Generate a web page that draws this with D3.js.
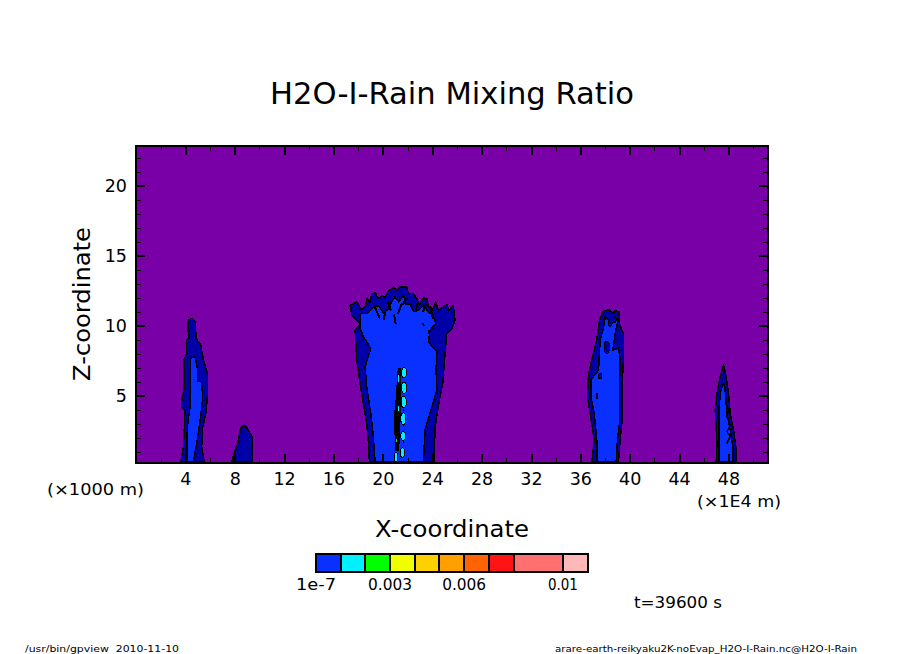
<!DOCTYPE html>
<html>
<head>
<meta charset="utf-8">
<script src="https://cdn.jsdelivr.net/npm/d3@7"></script>
<style>
	html, body { margin: 0; padding: 0; background: #fff; }
	svg { display: block; }
	text { font-family: "DejaVu Sans", sans-serif; fill: #000; }
</style>
</head>
<body>
<div id="viz"></div>
<script>
// contour outlines are [x (1E4 m), z (1000 m)]
const left_outer = [[3.62,.27],[3.84,1.37],[3.92,2.79],[3.97,3.99],[3.67,4.22],[3.73,4.89],[3.89,5.41],[3.89,7.56],[4.11,8.04],[4.11,8.99],[4.32,9.22],[4.21,9.7],[4.24,10.41],[4.54,10.53],[4.81,10.29],[4.86,9.11],[5.24,8.63],[5.46,7.56],[5.78,6.61],[5.78,4.94],[5.67,3.75],[5.41,2.79],[5.32,1.36],[5.54,.27]]
const left_inner = [[4.11,.27],[4.16,2.79],[4.38,4.22],[4.43,6.36],[4.43,7.68],[4.78,7.79],[4.97,6.96],[4.97,6.01],[5.29,6.01],[5.41,4.94],[5.24,3.51],[4.92,1.61],[4.64,.27]]
const small_outer = [[7.75,.27],[7.94,.89],[8.21,1.49],[8.32,1.96],[8.48,2.68],[8.75,2.91],[9.02,2.68],[9.24,2.32],[9.43,2.08],[9.43,.27]]
const center_outer = [[18.91,.27],[18.83,1.61],[18.69,3.04],[18.42,4.46],[18.15,5.89],[17.88,7.56],[17.75,9.7],[18.2,10.1],[17.48,10.77],[17.34,11.46],[17.88,11.7],[18.29,11.11],[18.61,11.46],[18.69,11.94],[18.96,11.7],[19.1,12.3],[19.42,12.34],[19.59,11.94],[19.91,12.13],[20.18,12.06],[20.4,12.41],[20.85,12.77],[21.12,12.53],[21.39,12.77],[21.94,12.77],[22.07,12.3],[22.47,12.3],[22.75,11.94],[22.93,11.51],[23.28,11.99],[23.56,11.94],[23.69,11.34],[24.01,11.11],[24.29,11.7],[24.5,11.11],[25.18,11.51],[25.36,11.11],[25.71,11.46],[25.85,10.39],[25.58,9.79],[25.18,9.46],[25.04,8.04],[24.85,5.89],[24.58,4.7],[24.23,2.79],[24.15,.27]]
const center_inner = [[19.37,.27],[19.23,2.08],[19.02,3.75],[18.69,5.65],[18.56,7.08],[19.02,8.39],[18.42,9.22],[18.15,9.82],[18.21,10.89],[18.69,10.87],[19.2,11.3],[19.64,11.46],[20.05,10.9],[20.45,11.22],[20.7,11.7],[20.99,12.06],[21.3,11.7],[21.66,12.18],[21.9,11.5],[22.2,11.58],[22.5,11.0],[22.88,11.11],[23.25,11.5],[23.69,10.99],[24.09,10.75],[24.29,10.15],[23.82,9.68],[23.69,8.84],[24.37,8.15],[24.31,6.84],[24.37,5.41],[23.82,3.75],[23.42,2.56],[23.28,.27]]
const center_core = [[21.26,6.94],[21.39,6.94],[21.37,5.03],[21.39,3.6],[21.31,1.94],[21.26,1.1],[21.04,1.1],[20.99,2.65],[20.99,3.84],[21.12,5.03],[21.18,5.99]]
const right_outer = [[36.93,.29],[37.12,1.84],[36.79,3.75],[36.57,4.94],[36.65,6.49],[36.93,7.56],[37.33,8.99],[37.55,10.41],[37.87,11.08],[38.36,11.13],[38.63,10.89],[38.82,11.08],[39.14,11.0],[39.17,10.06],[39.49,9.46],[39.49,7.56],[39.36,5.41],[39.36,3.04],[39.22,1.84],[39.09,.29]]
const right_inner = [[37.33,.29],[37.33,1.84],[37.12,3.75],[36.85,4.94],[36.85,6.13],[37.47,6.84],[37.6,8.99],[37.87,9.82],[38.01,10.65],[38.55,10.18],[39.09,10.54],[38.82,9.46],[38.63,8.27],[39.09,8.39],[39.22,7.68],[39.17,5.41],[39.17,3.04],[39.0,1.84],[38.9,.29]]
const far_outer = [[47.0,.29],[47.06,1.61],[46.92,3.99],[47.11,5.41],[47.33,6.36],[47.6,7.2],[47.81,6.36],[48.0,5.18],[48.14,3.75],[48.41,2.56],[48.6,1.36],[48.6,.29]]
const far_inner = [[47.24,.29],[47.24,1.61],[47.24,4.22],[47.38,5.41],[47.6,5.89],[47.73,5.41],[47.87,3.75],[48.14,2.56],[48.35,1.36],[48.35,.29]]
const far_squiggle = [[47.81,4.46],[48.0,3.99],[47.87,3.51],[48.14,2.91],[47.87,2.44],[48.14,2.08],[47.87,1.61]]

// short contour streaks under the jagged top of the middle cloud
const top_streaks = [
	[[19.3,11.46],[19.75,10.5]],
	[[20.2,11.0],[20.05,10.4]],
	[[20.4,11.7],[20.65,11.1]],
	[[20.9,10.8],[21.05,10.1]],
	[[21.55,11.6],[21.2,10.85]],
	[[21.6,11.5],[21.95,12.0]],
	[[22.85,11.7],[22.65,11.0]],
	[[23.5,11.6],[23.25,11.0]],
	[[23.85,11.4],[24.05,10.5]],
	[[23.25,10.2],[23.3,10.0]],
	[[23.7,9.7],[23.75,9.4]],
	[[37.33,5.2],[37.33,4.8]],
	[[21.62,2.9],[21.72,2.9]],
	[[21.66,1.7],[21.75,1.7]],
	[[21.66,4.0],[21.72,4.0]]
]

// small closed pockets: x, z, half width, half height
const cyan_pockets = [[21.72,6.65,.2,.36],[21.72,5.58,.2,.4],[21.69,4.56,.2,.42],[21.66,3.36,.2,.42],[21.64,2.13,.18,.32],[21.58,.94,.17,.34],[21.26,6.22,.1,.3],[21.26,4.08,.1,.2],[21.07,.63,.12,.36]]
const green_pockets = [[21.15,3.49,.07,.28],[21.1,1.82,.07,.16],[21.2,5.1,.05,.07],[21.15,2.6,.05,.07]]
const dark_pockets = [[38.14,8.46,.22,.43],[37.6,6.41,.14,.2],[38.4,10.2,.12,.25],[38.8,10.45,.1,.2]]

const x_major = [4, 8, 12, 16, 20, 24, 28, 32, 36, 40, 44, 48]
const x_minor = [2, 6, 10, 14, 18, 22, 26, 30, 34, 38, 42, 46, 50]
const z_major = [5, 10, 15, 20]
const z_minor = [1, 2, 3, 4, 6, 7, 8, 9, 11, 12, 13, 14, 16, 17, 18, 19, 21, 22]

const color_levels = [1e-7, 0.001, 0.002, 0.003, 0.004, 0.005, 0.006, 0.007, 0.008, 0.01, 0.011]
const level_colors = ['#0a30ff', '#00f0ff', '#00ff00', '#f0ff00', '#ffd000', '#ffa000', '#ff6400', '#ff1414', '#ff7070', '#ffb8b8']
const level_labels = [[1e-7, '1e-7'], [0.003, '0.003'], [0.006, '0.006'], [0.01, '0.01']]

const PURPLE = '#7800a6'
const DARK_BLUE = '#0000a8'

let WIDTH = 904
let HEIGHT = 654
let PLOT = { left: 136, right: 768, top: 146, bottom: 463 }

let svg = d3
	.select('#viz')
	.append('svg')
	.attr('width', WIDTH)
	.attr('height', HEIGHT)

const x_scale = d3.scaleLinear().domain([0, 51.2]).range([PLOT.left, PLOT.right])
const z_scale = d3.scaleLinear().domain([0.2, 22.84]).range([PLOT.bottom, PLOT.top])
const level_scale = d3.scaleLinear().domain([0, 0.011]).range([316, 587.6])

const outline = d3
	.line()
	.x((d) => x_scale(d[0]))
	.y((d) => z_scale(d[1]))

svg.append('rect')
	.attr('x', PLOT.left)
	.attr('y', PLOT.top)
	.attr('width', PLOT.right - PLOT.left)
	.attr('height', PLOT.bottom - PLOT.top)
	.attr('fill', PURPLE)

let clouds = svg
	.append('g')
	.attr('stroke', '#000')
	.attr('stroke-width', 1.5)
	.attr('stroke-linejoin', 'round')
	.attr('shape-rendering', 'crispEdges')

function draw_fill(points, color) {
	clouds
		.append('path')
		.attr('d', outline(points) + 'Z')
		.attr('fill', color)
}

draw_fill(left_outer, DARK_BLUE)
draw_fill(left_inner, level_colors[0])
draw_fill(small_outer, DARK_BLUE)
draw_fill(center_outer, DARK_BLUE)
draw_fill(center_inner, level_colors[0])
draw_fill(center_core, '#000')
draw_fill(right_outer, DARK_BLUE)
draw_fill(right_inner, level_colors[0])
draw_fill(far_outer, DARK_BLUE)
draw_fill(far_inner, level_colors[0])

clouds
	.append('path')
	.attr('d', outline(far_squiggle))
	.attr('fill', 'none')

clouds
	.selectAll('path.streak')
	.data(top_streaks)
	.enter()
	.append('path')
	.attr('class', 'streak')
	.attr('d', outline)
	.attr('fill', 'none')
	.attr('stroke-width', 2)

function draw_pockets(pockets, color) {
	clouds
		.append('g')
		.attr('stroke-width', 1)
		.selectAll('ellipse')
		.data(pockets)
		.enter()
		.append('ellipse')
		.attr('cx', (d) => x_scale(d[0]))
		.attr('cy', (d) => z_scale(d[1]))
		.attr('rx', (d) => x_scale(d[2]) - x_scale(0))
		.attr('ry', (d) => z_scale(0) - z_scale(d[3]))
		.attr('fill', color)
}

draw_pockets(dark_pockets, DARK_BLUE)
draw_pockets(cyan_pockets, level_colors[1])
draw_pockets(green_pockets, level_colors[2])

// ticks point into the plot on all four sides
const MAJOR_TICK = 9
const MINOR_TICK = 5

function draw_axis(axis, at, width) {
	const g = svg
		.append('g')
		.attr('transform', at)
		.attr('shape-rendering', 'crispEdges')
		.call(axis)
	g.select('.domain').remove()
	g.selectAll('line').attr('stroke', '#000').attr('stroke-width', width)
	return g
}

const plot_bottom = `translate(0,${PLOT.bottom})`
const plot_top = `translate(0,${PLOT.top})`
const plot_left = `translate(${PLOT.left},0)`
const plot_right = `translate(${PLOT.right},0)`

draw_axis(d3.axisBottom(x_scale).tickValues(x_minor).tickSize(-MINOR_TICK).tickFormat(''), plot_bottom, 1)
draw_axis(d3.axisTop(x_scale).tickValues(x_minor).tickSize(-MINOR_TICK).tickFormat(''), plot_top, 1)
draw_axis(d3.axisTop(x_scale).tickValues(x_major).tickSize(-MAJOR_TICK).tickFormat(''), plot_top, 2)
draw_axis(d3.axisRight(z_scale).tickValues(z_minor).tickSize(-MINOR_TICK).tickFormat(''), plot_right, 1)
draw_axis(d3.axisRight(z_scale).tickValues(z_major).tickSize(-MAJOR_TICK).tickFormat(''), plot_right, 2)
draw_axis(d3.axisLeft(z_scale).tickValues(z_minor).tickSize(-MINOR_TICK).tickFormat(''), plot_left, 1)

let x_labels = draw_axis(d3.axisBottom(x_scale).tickValues(x_major).tickSize(-MAJOR_TICK).tickPadding(0), plot_bottom, 2)
x_labels.selectAll('text')
	.attr('y', 22)
	.attr('dy', 0)
	.style('font-size', '17.5px')
	.style('font-family', '"DejaVu Sans", sans-serif')

let z_labels = draw_axis(d3.axisLeft(z_scale).tickValues(z_major).tickSize(-MAJOR_TICK).tickPadding(0), plot_left, 2)
z_labels.selectAll('text')
	.attr('x', -9)
	.attr('dy', '0.3em')
	.style('font-size', '17.5px')
	.style('font-family', '"DejaVu Sans", sans-serif')

svg.append('rect')
	.attr('x', PLOT.left)
	.attr('y', PLOT.top)
	.attr('width', PLOT.right - PLOT.left)
	.attr('height', PLOT.bottom - PLOT.top)
	.attr('fill', 'none')
	.attr('stroke', '#000')
	.attr('stroke-width', 2)
	.attr('shape-rendering', 'crispEdges')

function add_text(label, x, y, size, length) {
	return svg
		.append('text')
		.attr('x', x)
		.attr('y', y)
		.attr('font-size', size)
		.attr('textLength', length)
		.attr('lengthAdjust', 'spacingAndGlyphs')
		.text(label)
}

add_text('H2O-I-Rain Mixing Ratio', 270, 104, 31, 364)
add_text('X-coordinate', 375, 537, 23, 154)
add_text('Z-coordinate', 0, 0, 23, 154)
	.attr('transform', 'translate(90,381) rotate(-90)')
add_text('(×1000 m)', 47, 495, 16, 97)
add_text('(×1E4 m)', 697, 507, 16, 84)
add_text('t=39600 s', 634, 608, 15.5, 88)
add_text('/usr/bin/gpview  2010-11-10', 25, 652, 9.5, 154).attr('xml:space', 'preserve')
add_text('arare-earth-reikyaku2K-noEvap_H2O-I-Rain.nc@H2O-I-Rain', 555, 652, 9.5, 302)

// colour legend
let legend = svg.append('g').attr('shape-rendering', 'crispEdges')
legend
	.selectAll('rect')
	.data(level_colors)
	.enter()
	.append('rect')
	.attr('x', (d, i) => level_scale(color_levels[i]))
	.attr('y', 554)
	.attr('width', (d, i) => level_scale(color_levels[i + 1]) - level_scale(color_levels[i]))
	.attr('height', 18)
	.attr('fill', (d) => d)
	.attr('stroke', '#000')
	.attr('stroke-width', 2)

const label_widths = [40, 44, 44, 30]
svg.append('g')
	.selectAll('text')
	.data(level_labels)
	.enter()
	.append('text')
	.attr('x', (d) => level_scale(d[0]))
	.attr('y', 590)
	.attr('text-anchor', 'middle')
	.attr('font-size', 15)
	.attr('textLength', (d, i) => label_widths[i])
	.attr('lengthAdjust', 'spacingAndGlyphs')
	.text((d) => d[1])
</script>
</body>
</html>
